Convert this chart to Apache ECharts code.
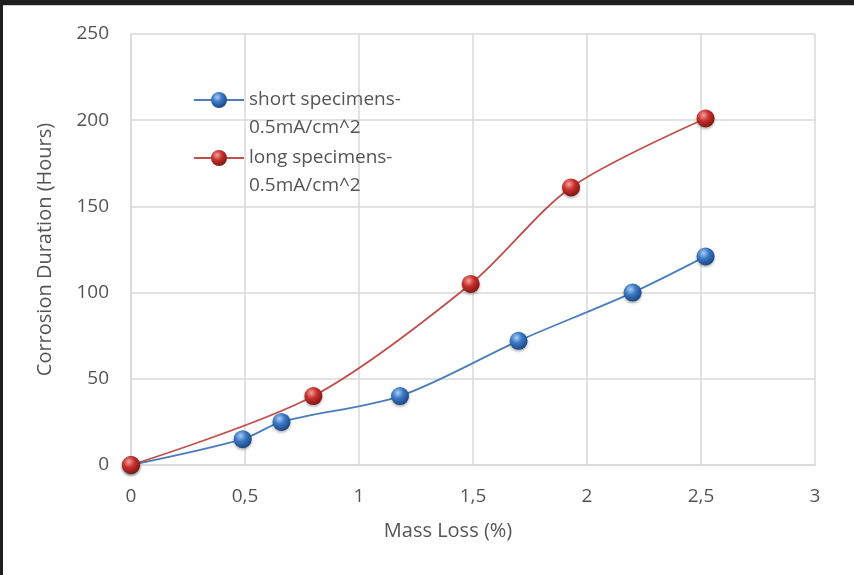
<!DOCTYPE html>
<html>
<head>
<meta charset="utf-8">
<script src="https://cdn.jsdelivr.net/npm/echarts@6/dist/echarts.min.js"></script>
<style>
html,body{margin:0;padding:0;background:#fff;}
#wrap{position:relative;width:854px;height:575px;overflow:hidden;}
#chart{position:absolute;left:0;top:0;width:854px;height:575px;}
#bt{position:absolute;left:0;top:0;width:854px;height:5px;background:#1e1e1e;border-bottom:1px solid #d0d0d0;}
#bl{position:absolute;left:0;top:0;width:3px;height:575px;background:#1e1e1e;}
</style>
</head>
<body>
<div id="wrap"><div id="chart"></div><div id="bt"></div><div id="bl"></div></div>
<script>
// ---- data ----
const shortName = 'short specimens-\n0.5mA/cm^2';
const longName = 'long specimens-\n0.5mA/cm^2';
const shortX = [0, 0.49, 0.66, 1.18, 1.7, 2.2, 2.52];
const shortY = [0, 15, 25, 40, 72, 100, 121];
const longX = [0, 0.8, 1.49, 1.93, 2.52];
const longY = [0, 40, 105, 161, 201];
const xTickLabels = ['0', '0,5', '1', '1,5', '2', '2,5', '3'];
const yTickLabels = ['0', '50', '100', '150', '200', '250'];
const xAxisName = 'Mass Loss (%)';
const yAxisName = 'Corrosion Duration (Hours)';

const pairs = (xs, ys) => xs.map((x, i) => [x, ys[i]]);

function sphere(light, mid, dark) {
  return {
    type: 'radial', x: 0.38, y: 0.32, r: 0.7,
    colorStops: [
      {offset: 0, color: light},
      {offset: 0.45, color: mid},
      {offset: 1, color: dark}
    ]
  };
}
const blueBall = sphere('#a9cdf5', '#3a78c4', '#1b4580');
const redBall = sphere('#f2a3a0', '#c9302c', '#7d1512');

const font = 'Open Sans';
const grey = '#555555';

const chart = echarts.init(document.getElementById('chart'), null, {renderer: 'canvas'});
function legendFor(name, iconY) {
  const L = 27.5;
  return {
    data: [name],
    left: 193,
    top: iconY - 1.5 * L,
    padding: 0,
    itemWidth: 50,
    itemHeight: 20,
    itemGap: 0,
    formatter: (n) => '\n' + n,
    textStyle: {fontFamily: font, fontSize: 19, color: grey, lineHeight: L}
  };
}
chart.setOption({
  animation: false,
  backgroundColor: '#ffffff',
  textStyle: {fontFamily: font},
  grid: {left: 131, right: 39, top: 34, bottom: 110, containLabel: false},
  legend: [legendFor(shortName, 100), legendFor(longName, 158)],
  xAxis: {
    type: 'value', min: 0, max: 3, interval: 0.5,
    name: xAxisName, nameLocation: 'middle', nameGap: 56,
    nameTextStyle: {fontFamily: font, fontSize: 20, color: grey, padding: [0, 50, 0, 0]},
    axisLine: {show: true, lineStyle: {color: '#d9d9d9', width: 1.5}},
    axisTick: {show: false},
    splitLine: {show: true, lineStyle: {color: '#d9d9d9', width: 1.5}},
    axisLabel: {
      fontFamily: font, fontSize: 19, color: grey, margin: 22,
      formatter: (v) => xTickLabels[Math.round(v / 0.5)]
    }
  },
  yAxis: {
    type: 'value', min: 0, max: 250, interval: 50,
    name: yAxisName, nameLocation: 'middle', nameGap: 76, nameRotate: 90,
    nameTextStyle: {fontFamily: font, fontSize: 20, color: grey},
    axisLine: {show: true, lineStyle: {color: '#d9d9d9', width: 1.5}},
    axisTick: {show: false},
    splitLine: {show: true, lineStyle: {color: '#d9d9d9', width: 1.5}},
    axisLabel: {
      fontFamily: font, fontSize: 19, color: grey, margin: 22,
      formatter: (v) => yTickLabels[Math.round(v / 50)]
    }
  },
  series: [
    {
      name: shortName, type: 'line', data: pairs(shortX, shortY),
      smooth: 0.3, symbol: 'circle', symbolSize: 18,
      lineStyle: {color: '#4a7ebb', width: 1.8},
      itemStyle: {color: blueBall, shadowBlur: 3, shadowColor: 'rgba(0,0,0,0.35)', shadowOffsetY: 1.5}
    },
    {
      name: longName, type: 'line', data: pairs(longX, longY),
      smooth: 0.3, symbol: 'circle', symbolSize: 18,
      lineStyle: {color: '#c0504d', width: 1.8},
      itemStyle: {color: redBall, shadowBlur: 3, shadowColor: 'rgba(0,0,0,0.35)', shadowOffsetY: 1.5}
    }
  ]
});
</script>
</body>
</html>
